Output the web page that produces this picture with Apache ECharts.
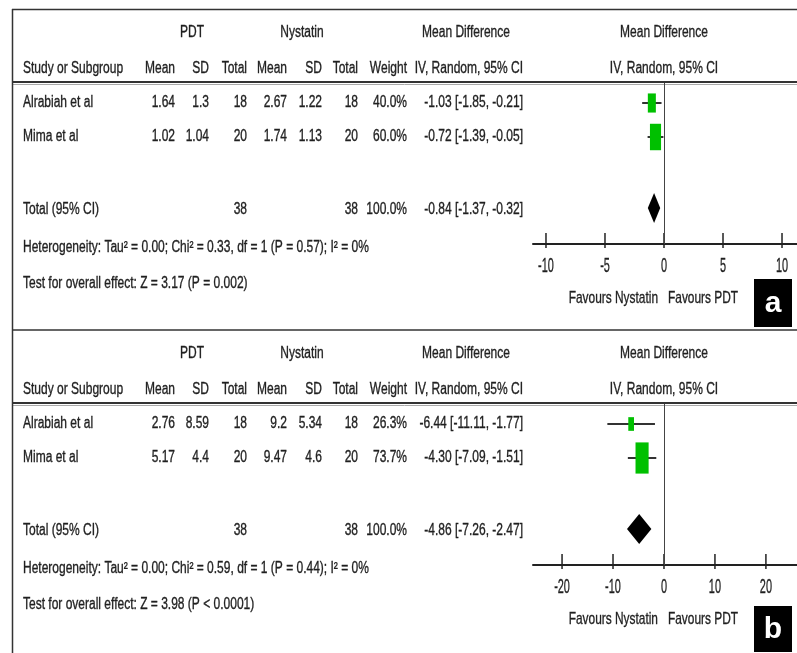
<!DOCTYPE html>
<html>
<head>
<meta charset="utf-8">
<script src="https://cdn.jsdelivr.net/npm/echarts@6/dist/echarts.min.js"></script>
</head>
<body style="margin:0; background:#fff">
<div id="main" style="width:797px;height:653px;"></div>
<script>
// studies (same two trials in both panels)
var studies = ['Alrabiah et al', 'Mima et al'];

// panel a
var aPdtMean = [1.64, 1.02];
var aPdtSD = [1.3, 1.04];
var aPdtN = [18, 20];
var aNysMean = [2.67, 1.74];
var aNysSD = [1.22, 1.13];
var aNysN = [18, 20];
var aWeight = [40.0, 60.0];
var aMD = [-1.03, -0.72];
var aLow = [-1.85, -1.39];
var aHigh = [-0.21, -0.05];
var aTotalN = [38, 38];
var aTotalMD = [-0.84, -1.37, -0.32];
var aHet = 'Heterogeneity: Tau² = 0.00; Chi² = 0.33, df = 1 (P = 0.57); I² = 0%';
var aTest = 'Test for overall effect: Z = 3.17 (P = 0.002)';
var aTicks = [-10, -5, 0, 5, 10];

// panel b
var bPdtMean = [2.76, 5.17];
var bPdtSD = [8.59, 4.4];
var bPdtN = [18, 20];
var bNysMean = [9.2, 9.47];
var bNysSD = [5.34, 4.6];
var bNysN = [18, 20];
var bWeight = [26.3, 73.7];
var bMD = [-6.44, -4.30];
var bLow = [-11.11, -7.09];
var bHigh = [-1.77, -1.51];
var bTotalN = [38, 38];
var bTotalMD = [-4.86, -7.26, -2.47];
var bHet = 'Heterogeneity: Tau² = 0.00; Chi² = 0.59, df = 1 (P = 0.44); I² = 0%';
var bTest = 'Test for overall effect: Z = 3.98 (P < 0.0001)';
var bTicks = [-20, -10, 0, 10, 20];

// layout (panel-relative pixels)
var COL = { study: 23, pdtMean: 175, pdtSD: 209, pdtN: 247, nysMean: 287, nysSD: 322, nysN: 358,
  weight: 407, ci: 523, pdtHead: 192, nysHead: 302, mdHead: 466, plot: 664 };
var ROW = { group: 33, head: 69, study: [103, 137], total: 210, het: 248, test: 284, diamond: 208,
  axis: 244, tickLabel: 266, favours: 298 };
var PLOT_TOP = 83;

var FONT = '"Liberation Sans", Arial, sans-serif';
var INK = '#1f1f1f';

var panels = [
  { top: 0, xMin: -11.1, xMax: 11.27, label: 'a', labelY: 279, labelH: 48,
    pdtMean: aPdtMean, pdtSD: aPdtSD, pdtN: aPdtN, nysMean: aNysMean, nysSD: aNysSD, nysN: aNysN,
    weight: aWeight, md: aMD, low: aLow, high: aHigh, totalN: aTotalN, totalMD: aTotalMD,
    het: aHet, test: aTest, ticks: aTicks },
  { top: 321, xMin: -25.7, xMax: 26.1, label: 'b', labelY: 606, labelH: 46,
    pdtMean: bPdtMean, pdtSD: bPdtSD, pdtN: bPdtN, nysMean: bNysMean, nysSD: bNysSD, nysN: bNysN,
    weight: bWeight, md: bMD, low: bLow, high: bHigh, totalN: bTotalN, totalMD: bTotalMD,
    het: bHet, test: bTest, ticks: bTicks }
];

function ciText(m, l, h) {
  return m.toFixed(2) + ' [' + l.toFixed(2) + ', ' + h.toFixed(2) + ']';
}

function tableCells(p) {
  var cells = [
    [COL.pdtHead, ROW.group, 'PDT', 'center'],
    [COL.nysHead, ROW.group, 'Nystatin', 'center'],
    [COL.mdHead, ROW.group, 'Mean Difference', 'center'],
    [COL.plot, ROW.group, 'Mean Difference', 'center'],
    [COL.study, ROW.head, 'Study or Subgroup', 'left'],
    [COL.pdtMean, ROW.head, 'Mean', 'right'],
    [COL.pdtSD, ROW.head, 'SD', 'right'],
    [COL.pdtN, ROW.head, 'Total', 'right'],
    [COL.nysMean, ROW.head, 'Mean', 'right'],
    [COL.nysSD, ROW.head, 'SD', 'right'],
    [COL.nysN, ROW.head, 'Total', 'right'],
    [COL.weight, ROW.head, 'Weight', 'right'],
    [COL.ci, ROW.head, 'IV, Random, 95% CI', 'right'],
    [COL.plot, ROW.head, 'IV, Random, 95% CI', 'center']
  ];
  studies.forEach(function (s, i) {
    var y = ROW.study[i];
    cells.push([COL.study, y, s, 'left']);
    cells.push([COL.pdtMean, y, String(p.pdtMean[i]), 'right']);
    cells.push([COL.pdtSD, y, String(p.pdtSD[i]), 'right']);
    cells.push([COL.pdtN, y, String(p.pdtN[i]), 'right']);
    cells.push([COL.nysMean, y, String(p.nysMean[i]), 'right']);
    cells.push([COL.nysSD, y, String(p.nysSD[i]), 'right']);
    cells.push([COL.nysN, y, String(p.nysN[i]), 'right']);
    cells.push([COL.weight, y, p.weight[i].toFixed(1) + '%', 'right']);
    cells.push([COL.ci, y, ciText(p.md[i], p.low[i], p.high[i]), 'right']);
  });
  cells.push([COL.study, ROW.total, 'Total (95% CI)', 'left']);
  cells.push([COL.pdtN, ROW.total, String(p.totalN[0]), 'right']);
  cells.push([COL.nysN, ROW.total, String(p.totalN[1]), 'right']);
  cells.push([COL.weight, ROW.total, '100.0%', 'right']);
  cells.push([COL.ci, ROW.total, ciText(p.totalMD[0], p.totalMD[1], p.totalMD[2]), 'right']);
  cells.push([COL.study, ROW.het, p.het, 'left']);
  cells.push([COL.study, ROW.test, p.test, 'left']);
  return cells;
}

// condensed text: scaled horizontally around its anchor
function textEl(x, y, s, align, size, sx) {
  return {
    type: 'text', x: x, y: y, scaleX: sx || 0.75,
    style: { text: s, align: align, verticalAlign: 'middle', fill: INK,
      stroke: INK, lineWidth: 0.35,
      fontSize: size || 16, fontFamily: FONT }
  };
}

var option = {
  animation: false,
  backgroundColor: '#fff',
  grid: [], xAxis: [], yAxis: [], series: [], graphic: []
};

panels.forEach(function (p, k) {
  var g = k * 2;
  // table grid: covers the panel
  option.grid.push({ left: 0, top: p.top, width: 797, height: 321 });
  option.xAxis.push({ gridIndex: g, type: 'value', min: 0, max: 797, show: false });
  option.yAxis.push({ gridIndex: g, type: 'value', min: 0, max: 321, inverse: true, show: false });
  // forest plot grid
  option.grid.push({ left: 533, top: p.top + PLOT_TOP, width: 264, height: ROW.axis - PLOT_TOP });
  option.xAxis.push({ gridIndex: g + 1, type: 'value', min: p.xMin, max: p.xMax,
    axisLine: { onZero: false, lineStyle: { color: '#222', width: 2 } },
    axisTick: { show: false }, axisLabel: { show: false }, splitLine: { show: false } });
  option.yAxis.push({ gridIndex: g + 1, type: 'value', min: PLOT_TOP, max: ROW.axis, inverse: true, show: false });

  var cells = tableCells(p);
  option.series.push({
    type: 'custom', xAxisIndex: g, yAxisIndex: g, silent: true,
    data: cells.map(function (c) { return [c[0], c[1]]; }),
    renderItem: function (params, api) {
      var c = cells[params.dataIndex];
      var pt = api.coord([api.value(0), api.value(1)]);
      return textEl(pt[0], pt[1], c[2], c[3]);
    }
  });

  // study squares with CI whiskers
  option.series.push({
    type: 'custom', xAxisIndex: g + 1, yAxisIndex: g + 1, silent: true, clip: false,
    data: studies.map(function (s, i) {
      return [p.md[i], p.low[i], p.high[i], p.weight[i], ROW.study[i]];
    }),
    encode: { x: [0, 1, 2], y: 4 },
    renderItem: function (params, api) {
      var y = api.value(4);
      var c = api.coord([api.value(0), y]);
      var l = api.coord([api.value(1), y]);
      var r = api.coord([api.value(2), y]);
      var h = Math.pow(api.value(3), 0.8);
      var w = h * 0.42;
      return { type: 'group', children: [
        { type: 'line', shape: { x1: l[0], y1: c[1], x2: r[0], y2: c[1] }, style: { stroke: '#333', lineWidth: 2 } },
        { type: 'rect', shape: { x: c[0] - w / 2, y: c[1] - h / 2, width: w, height: h }, style: { fill: '#00c000' } }
      ] };
    },
    markLine: {
      silent: true, symbol: 'none', label: { show: false },
      lineStyle: { color: '#444', width: 1, type: 'solid' },
      data: [{ xAxis: 0 }]
    }
  });

  // pooled diamond
  option.series.push({
    type: 'custom', xAxisIndex: g + 1, yAxisIndex: g + 1, silent: true, clip: false,
    data: [[p.totalMD[0], p.totalMD[1], p.totalMD[2], ROW.diamond]],
    encode: { x: [0, 1, 2], y: 3 },
    renderItem: function (params, api) {
      var y = api.value(3);
      var c = api.coord([api.value(0), y]);
      var l = api.coord([api.value(1), y]);
      var r = api.coord([api.value(2), y]);
      return { type: 'polygon', shape: { points: [[l[0], c[1]], [c[0], c[1] - 15], [r[0], c[1]], [c[0], c[1] + 15]] },
        style: { fill: '#000' } };
    }
  });

  // axis ticks and labels
  option.series.push({
    type: 'custom', xAxisIndex: g + 1, yAxisIndex: g + 1, silent: true, clip: false,
    data: p.ticks.map(function (t) { return [t, ROW.axis]; }),
    renderItem: function (params, api) {
      var pt = api.coord([api.value(0), api.value(1)]);
      var lab = api.coord([api.value(0), ROW.tickLabel]);
      return { type: 'group', children: [
        { type: 'line', shape: { x1: pt[0], y1: pt[1] - 11, x2: pt[0], y2: pt[1] + 4 }, style: { stroke: '#222', lineWidth: 1.5 } },
        textEl(lab[0], lab[1], String(p.ticks[params.dataIndex]), 'center', 21, 0.52)
      ] };
    }
  });

  // favours labels around the line of no effect
  option.series.push({
    type: 'custom', xAxisIndex: g + 1, yAxisIndex: g + 1, silent: true, clip: false,
    data: [[0, ROW.favours]],
    renderItem: function (params, api) {
      var pt = api.coord([api.value(0), api.value(1)]);
      return { type: 'group', children: [
        textEl(pt[0] - 6, pt[1], 'Favours Nystatin', 'right', 17, 0.7),
        textEl(pt[0] + 4, pt[1], 'Favours PDT', 'left', 17, 0.7)
      ] };
    }
  });

  // header rule
  option.graphic.push({ type: 'line', shape: { x1: 12, y1: p.top + 82, x2: 797, y2: p.top + 82 }, style: { stroke: '#333', lineWidth: 2 }, silent: true });
  option.graphic.push({ type: 'line', shape: { x1: 12, y1: p.top + 84.5, x2: 797, y2: p.top + 84.5 }, style: { stroke: '#aaa', lineWidth: 1 }, silent: true });
  // panel letter
  option.graphic.push({ type: 'rect', shape: { x: 754, y: p.labelY, width: 38, height: p.labelH }, style: { fill: '#000' }, silent: true });
  option.graphic.push({ type: 'text', x: 773, y: p.labelY + p.labelH / 2 + 1,
    style: { text: p.label, align: 'center', verticalAlign: 'middle', fill: '#fff', fontSize: 30, fontWeight: 'bold', fontFamily: FONT }, silent: true });
});

// frame
option.graphic.push({ type: 'line', shape: { x1: 12.5, y1: 9, x2: 12.5, y2: 653 }, style: { stroke: '#333', lineWidth: 1.5 }, silent: true });
option.graphic.push({ type: 'line', shape: { x1: 12, y1: 9.5, x2: 797, y2: 9.5 }, style: { stroke: '#333', lineWidth: 1.5 }, silent: true });
option.graphic.push({ type: 'line', shape: { x1: 12, y1: 330, x2: 797, y2: 330 }, style: { stroke: '#333', lineWidth: 1.5 }, silent: true });

var chart = echarts.init(document.getElementById('main'));
chart.setOption(option);
</script>
</body>
</html>
